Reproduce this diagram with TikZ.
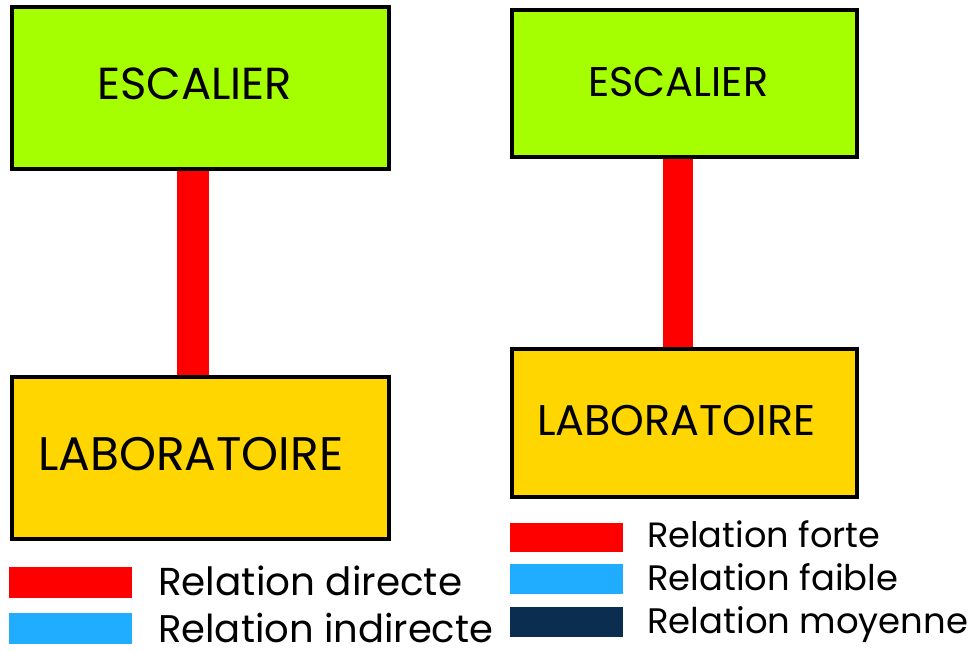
\documentclass[tikz,border=0pt]{standalone}
\usepackage{fontspec}
\setmainfont{Poppins}
\usepackage{graphicx}
\usetikzlibrary{backgrounds}
\definecolor{boxgreen}{RGB}{166,255,0}
\definecolor{boxyellow}{RGB}{255,214,0}
\definecolor{relred}{RGB}{255,0,0}
\definecolor{relblue}{RGB}{32,172,255}
\definecolor{relnavy}{RGB}{10,45,80}
\tikzset{
  roombox/.style={draw=black, line width=4pt, inner sep=0pt, outer sep=0pt},
  roomtext/.style={anchor=base west, inner sep=0pt, text=black},
  swatch/.style={inner sep=0pt, minimum width=123pt, minimum height=31pt},
  legendtext/.style={anchor=base west, inner sep=0pt, text=black},
  link/.style={draw=relred},
}
\newcommand{\fitto}[2]{\resizebox{#1pt}{!}{#2}}
\begin{document}
\begin{tikzpicture}[x=1pt,y=-1pt]
\useasboundingbox (0,0) rectangle (973,650);

% ---- left diagram ----
\node[roombox, fill=boxgreen, minimum width=377pt, minimum height=162pt] (escA) at (200.5,88) {};
\node[roombox, fill=boxyellow, minimum width=377pt, minimum height=162pt] (labA) at (200.5,458) {};
\node[roomtext] (escAtext) at (97,100) {\fitto{195}{ESCALIER}};
\node[roomtext] (labAtext) at (38,470) {\fitto{305}{LABORATOIRE}};

% ---- right diagram ----
\node[roombox, fill=boxgreen, minimum width=345pt, minimum height=147pt] (escB) at (684.5,83.5) {};
\node[roombox, fill=boxyellow, minimum width=345pt, minimum height=148pt] (labB) at (684.5,423) {};
\node[roomtext] (escBtext) at (588,97) {\fitto{180}{ESCALIER}};
\node[roomtext] (labBtext) at (537,435) {\fitto{278}{LABORATOIRE}};

% ---- links between the rooms, behind the boxes ----
\begin{scope}[on background layer]
\fill[white] (0,0) rectangle (973,650);
\draw[link, line width=32pt] ([xshift=-7.5pt]escA.south) -- ([xshift=-7.5pt]labA.north);
\draw[link, line width=30pt] ([xshift=-6.5pt]escB.south) -- ([xshift=-6.5pt]labB.north);
\end{scope}

% ---- left legend ----
\node[swatch, fill=relred] (swA1) at (70.5,582.5) {};
\node[swatch, fill=relblue] (swA2) at (70.5,628) {};
\node[legendtext] (lgA1) at (158,595) {\fitto{304}{Relation directe}};
\node[legendtext] (lgA2) at (158,642) {\fitto{335}{Relation indirecte}};

% ---- right legend ----
\node[swatch, fill=relred, minimum width=113pt, minimum height=29pt] (swB1) at (566.5,537.5) {};
\node[swatch, fill=relblue, minimum width=113pt, minimum height=30pt] (swB2) at (566.5,579) {};
\node[swatch, fill=relnavy, minimum width=113pt, minimum height=30pt] (swB3) at (566.5,622) {};
\node[legendtext] (lgB1) at (647,547) {\fitto{233}{Relation forte}};
\node[legendtext] (lgB2) at (647,590) {\fitto{251}{Relation faible}};
\node[legendtext] (lgB3) at (647,633) {\fitto{321}{Relation moyenne}};
\end{tikzpicture}
\end{document}
